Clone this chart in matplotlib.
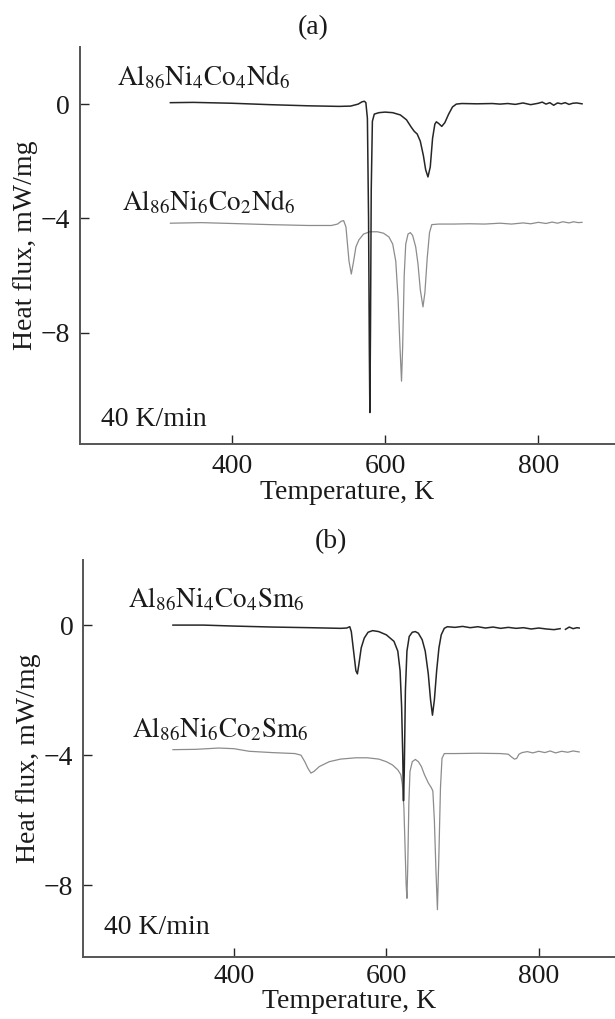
import matplotlib
matplotlib.use('Agg')
import matplotlib.pyplot as plt
import numpy as np

# ---- data (T in K, heat flux in mW/mg) ----
# (a) Nd alloys
t_nd4 = [320, 350, 400, 450, 500, 540, 555, 565, 570, 573, 575, 577, 578.5, 579.5, 580.2, 581, 582,
         583.5, 586, 592, 600, 610, 620, 628, 634, 638, 642, 646, 650, 653, 656, 659, 662, 665, 667,
         670, 674, 678, 683, 688, 693, 700, 720, 740, 750, 760, 770, 780, 790, 800, 805, 810, 815,
         820, 825, 830, 835, 840, 845, 850, 857]
q_nd4 = [0.05, 0.06, 0.03, -0.02, -0.06, -0.08, -0.07, 0.0, 0.08, 0.1, 0.05, -0.5, -4.0, -8.5, -10.8,
         -8.0, -3.0, -0.6, -0.35, -0.3, -0.28, -0.3, -0.38, -0.55, -0.8, -0.95, -1.05, -1.3, -1.8,
         -2.3, -2.55, -2.2, -1.2, -0.7, -0.62, -0.68, -0.78, -0.65, -0.35, -0.1, 0.0, 0.02, 0.01,
         0.02, 0.0, 0.02, -0.01, 0.04, -0.02, 0.03, 0.07, 0.0, 0.05, -0.04, 0.04, 0.01, 0.05, -0.01,
         0.03, 0.04, 0.01]

t_nd6 = [320, 360, 400, 450, 500, 530, 538, 543, 546, 549, 551, 553, 556, 559, 562, 566, 572, 580,
         590, 598, 605, 610, 614, 617, 619.5, 621.5, 623, 625, 627, 630, 633, 636, 640, 643, 646,
         649.5, 652, 655, 658, 661, 670, 690, 710, 730, 750, 765, 780, 790, 800, 810, 818, 825,
         832, 840, 846, 852, 857]
q_nd6 = [-4.17, -4.15, -4.18, -4.22, -4.25, -4.25, -4.2, -4.1, -4.08, -4.3, -4.9, -5.5, -5.95, -5.5,
         -5.0, -4.75, -4.55, -4.47, -4.47, -4.52, -4.65, -4.9, -5.5, -6.8, -8.5, -9.7, -8.5, -6.0,
         -4.9, -4.55, -4.5, -4.6, -5.0, -5.6, -6.5, -7.1, -6.6, -5.4, -4.5, -4.22, -4.2, -4.2,
         -4.19, -4.2, -4.17, -4.2, -4.16, -4.19, -4.14, -4.18, -4.13, -4.17, -4.12, -4.16, -4.12,
         -4.15, -4.14]

# (b) Sm alloys
t_sm4 = [320, 360, 400, 450, 500, 540, 548, 552, 554, 557, 560, 562, 564, 567, 571, 576, 582, 590,
         600, 610, 615, 618, 620, 621.5, 622.5, 623.5, 625, 627, 630, 634, 638, 642, 647, 651, 655,
         658, 660.5, 663, 666, 669, 672, 676, 680, 690, 700, 710, 720, 730, 740, 750, 760, 770, 780,
         790, 800, 810, 820, 828, np.nan, 835, 840, 845, 850, 853]
q_sm4 = [0.0, 0.0, -0.03, -0.06, -0.08, -0.1, -0.09, -0.05, -0.2, -0.8, -1.4, -1.5, -1.2, -0.7,
         -0.4, -0.22, -0.17, -0.2, -0.3, -0.5, -0.8, -1.4, -2.5, -4.0, -5.4, -4.5, -2.0, -0.8,
         -0.35, -0.22, -0.2, -0.25, -0.45, -0.8, -1.5, -2.3, -2.77, -2.3, -1.4, -0.7, -0.3, -0.1,
         -0.05, -0.07, -0.04, -0.08, -0.05, -0.09, -0.06, -0.1, -0.07, -0.1, -0.08, -0.12, -0.09,
         -0.12, -0.14, -0.11, np.nan, -0.13, -0.06, -0.11, -0.08, -0.09]

t_sm6 = [320, 350, 380, 400, 420, 450, 480, 488, 493, 497, 501, 505, 512, 525, 540, 560, 575, 590,
         600, 608, 615, 619, 621, 623, 624.5, 626, 627, 628, 629.5, 631, 634, 638, 642, 646, 650,
         655, 659, 661, 663, 665, 667, 669, 671, 673, 676, 690, 720, 750, 760, 764, 768, 771, 774,
         778, 785, 792, 800, 808, 815, 822, 830, 838, 845, 853]
q_sm6 = [-3.83, -3.82, -3.78, -3.8, -3.88, -3.92, -3.95, -4.0, -4.2, -4.4, -4.55, -4.5, -4.35, -4.2,
         -4.12, -4.08, -4.08, -4.12, -4.2, -4.3, -4.45, -4.6, -4.9, -5.6, -6.8, -8.0, -8.4, -7.5,
         -5.5, -4.5, -4.2, -4.13, -4.2, -4.35, -4.6, -4.85, -5.0, -5.1, -6.0, -7.5, -8.75, -7.0,
         -5.0, -4.1, -3.95, -3.95, -3.94, -3.95, -3.97, -4.05, -4.12, -4.1, -3.97, -3.92, -3.89,
         -3.93, -3.88, -3.92, -3.87, -3.93, -3.88, -3.91, -3.87, -3.9]

xticks = [400, 600, 800]
yticks = [0, -4, -8]

plt.rcParams['font.family'] = ['Liberation Serif', 'DejaVu Serif']
plt.rcParams['mathtext.fontset'] = 'stix'
plt.rcParams['axes.unicode_minus'] = True

fig = plt.figure(figsize=(6.15, 10.19), dpi=100)
ax_a = fig.add_axes([0.130, 0.5643, 0.870, 0.3896])
ax_b = fig.add_axes([0.135, 0.0610, 0.865, 0.3894])

spine_col = '#555555'
dark = '#262626'
grey = '#8c8c8c'
txt = '#1a1a1a'
fs = 20
fs_lab = 19.5


def style(ax, ylim, rate_y, xpad, lpad):
    ax.set_xlim(202, 900)
    ax.set_ylim(*ylim)
    ax.set_xticks(xticks)
    ax.set_yticks(yticks)
    ax.set_yticklabels(['0', '\u22124', '\u22128'])
    for s in ['top', 'right']:
        ax.spines[s].set_visible(False)
    for s in ['left', 'bottom']:
        ax.spines[s].set_color(spine_col)
        ax.spines[s].set_linewidth(1.4)
    ax.tick_params(direction='in', length=6.5, width=1.0, color=dark,
                   labelsize=fs, labelcolor=txt)
    ax.tick_params(axis='y', pad=7)
    ax.tick_params(axis='x', pad=xpad)
    ax.set_xlabel('Temperature, K', fontsize=fs, color=txt, labelpad=lpad)
    ax.set_ylabel('Heat flux, mW/mg', fontsize=fs, color=txt, labelpad=2)
    ax.text(229, rate_y, '40 K/min', fontsize=fs, color=txt, va='center')


# panel (a)
ax_a.plot(t_nd6, q_nd6, color=grey, lw=0.9)
ax_a.plot(t_nd4, q_nd4, color=dark, lw=1.1)
style(ax_a, (-11.9, 2.0), -11.05, 7, 1)
ax_a.text(250, 0.95, r'$\mathrm{Al_{86}Ni_{4}Co_{4}Nd_{6}}$', fontsize=fs_lab, color=txt, va='center')
ax_a.text(257, -3.45, r'$\mathrm{Al_{86}Ni_{6}Co_{2}Nd_{6}}$', fontsize=fs_lab, color=txt, va='center')
fig.text(0.51, 0.973, '(a)', fontsize=fs, ha='center', va='center', color=txt)

# panel (b)
ax_b.plot(t_sm6, q_sm6, color=grey, lw=0.9)
ax_b.plot(t_sm4, q_sm4, color=dark, lw=1.1)
style(ax_b, (-10.2, 2.0), -9.3, 5, 0.5)
ax_b.text(261, 0.8, r'$\mathrm{Al_{86}Ni_{4}Co_{4}Sm_{6}}$', fontsize=fs_lab, color=txt, va='center')
ax_b.text(266, -3.2, r'$\mathrm{Al_{86}Ni_{6}Co_{2}Sm_{6}}$', fontsize=fs_lab, color=txt, va='center')
fig.text(0.538, 0.468, '(b)', fontsize=fs, ha='center', va='center', color=txt)

fig.savefig('out.png', dpi=100)
